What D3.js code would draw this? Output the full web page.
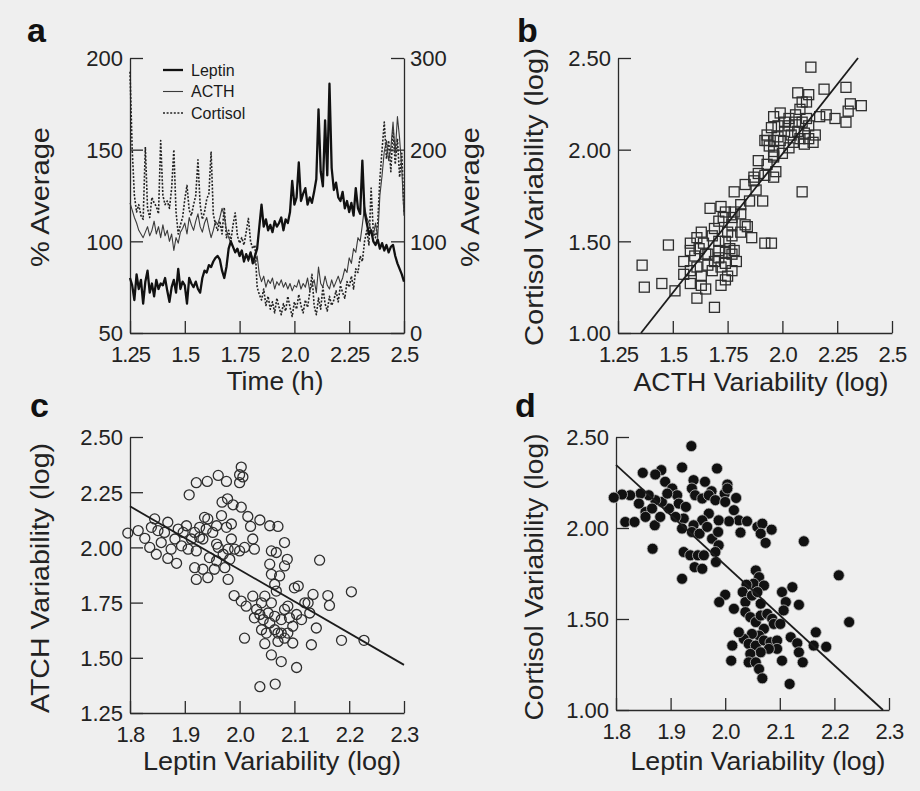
<!DOCTYPE html>
<html>
<head>
<meta charset="utf-8">
<script src="https://cdn.jsdelivr.net/npm/d3@7"></script>
<style>
body { margin: 0; background: #efefef; }
svg { display: block; font-family: "Liberation Sans", Arial, Helvetica, sans-serif; }
.axis path, .axis line { stroke: #2a2a2a; stroke-width: 1.3; }
.axis text { fill: #222; }
.title { fill: #222; }
</style>
</head>
<body>
<svg id="fig" width="920" height="791"></svg>
<script>
// ---- panel a: time course (% of average) ----
var timeH = [1.25,1.26,1.27,1.28,1.29,1.30,1.31,1.32,1.33,1.34,
  1.35,1.36,1.37,1.38,1.39,1.40,1.41,1.42,1.43,1.44,
  1.45,1.46,1.47,1.48,1.49,1.50,1.51,1.52,1.53,1.54,
  1.55,1.56,1.57,1.58,1.59,1.60,1.61,1.62,1.63,1.64,
  1.65,1.66,1.67,1.68,1.69,1.70,1.71,1.72,1.73,1.74,
  1.75,1.76,1.77,1.78,1.79,1.80,1.81,1.82,1.83,1.84,
  1.85,1.86,1.87,1.88,1.89,1.90,1.91,1.92,1.93,1.94,
  1.95,1.96,1.97,1.98,1.99,2.00,2.01,2.02,2.03,2.04,
  2.05,2.06,2.07,2.08,2.09,2.10,2.11,2.12,2.13,2.14,
  2.15,2.16,2.17,2.18,2.19,2.20,2.21,2.22,2.23,2.24,
  2.25,2.26,2.27,2.28,2.29,2.30,2.31,2.32,2.33,2.34,
  2.35,2.36,2.37,2.38,2.39,2.40,2.41,2.42,2.43,2.44,
  2.45,2.46,2.47,2.48,2.49,2.50];

// left axis (50-200)
var leptin = [80,76,68,82,74,79,66,78,84,72,
  77,70,79,74,77,76,80,73,67,75,
  79,72,85,74,78,76,66,80,77,75,
  78,74,72,80,84,83,87,86,89,91,
  92,90,84,80,86,96,100,97,94,96,
  92,95,89,93,90,94,88,92,96,108,
  120,108,112,106,109,105,111,108,110,113,
  106,112,110,116,133,120,124,143,122,126,
  129,120,124,121,127,134,172,138,130,166,
  136,186,140,128,132,124,122,127,118,122,
  116,121,114,129,118,115,144,116,110,104,
  106,100,98,101,96,99,95,98,94,97,
  98,92,88,85,82,78];

// right axis (0-300)
var acth = [142,134,126,120,112,108,104,110,116,106,
  112,122,108,116,104,118,106,112,100,108,
  90,104,98,110,114,120,108,126,118,112,
  122,130,116,110,120,126,114,104,112,122,
  118,126,136,128,112,104,98,94,88,92,
  84,90,80,86,78,88,82,76,84,64,
  56,62,50,58,54,60,48,56,52,58,
  50,55,48,54,46,52,50,58,48,54,
  50,60,46,52,58,44,72,54,50,62,
  52,48,58,50,56,62,54,60,70,66,
  82,76,92,88,104,100,118,138,126,120,
  112,106,120,104,150,172,198,210,188,202,
  230,196,236,212,178,128];

var cortisol = [285,200,150,132,140,128,124,203,136,126,
  148,142,138,130,210,150,140,144,136,158,
  200,132,108,118,126,146,161,134,128,140,
  150,189,140,124,132,146,152,198,130,118,
  112,122,108,137,104,112,100,118,131,106,
  98,104,96,110,125,100,92,96,50,42,
  36,48,30,40,26,34,22,38,28,20,
  32,24,40,28,18,34,26,42,30,22,
  36,28,44,64,30,20,38,26,50,32,
  24,40,30,36,46,34,52,44,38,56,
  50,62,48,70,66,84,78,100,112,96,
  158,110,104,120,168,200,230,190,210,176,
  222,184,212,170,196,131];

var legendNames = ["Leptin", "ACTH", "Cortisol"];
var timeTicks = [1.25, 1.5, 1.75, 2.0, 2.25, 2.5];
var timeTickLabels = ["1.25", "1.5", "1.75", "2.0", "2.25", "2.5"];
var leftTicks = [50, 100, 150, 200];
var rightTicks = [0, 100, 200, 300];

// ---- panel b: ACTH (x) vs cortisol (y) variability ----
var acthCortisol = [
  [2.13,2.45],[2.07,2.31],[2.12,2.30],[2.11,2.26],[2.19,2.33],[2.29,2.34],[2.31,2.25],[2.36,2.24],[2.30,2.21],[2.29,2.15],
  [2.24,2.17],[2.20,2.19],[2.17,2.18],[2.09,2.26],[2.08,2.22],
  [1.96,2.18],[1.99,2.20],[2.03,2.17],[2.06,2.15],[2.09,2.15],[2.12,2.13],[2.15,2.08],[2.14,2.04],[2.10,2.03],[2.08,2.06],
  [2.04,2.08],[2.01,2.10],[1.98,2.13],[1.95,2.12],[1.93,2.08],[1.92,2.05],[1.94,2.02],[1.96,2.05],[1.99,2.05],[2.03,2.01],
  [2.05,2.04],[2.07,2.10],[2.10,2.09],[2.12,2.06],[2.00,1.98],[1.96,1.99],[1.93,2.05],[2.03,2.13],[2.06,2.19],[2.11,2.17],
  [2.01,2.15],[1.98,2.07],[1.96,1.97],
  [1.89,1.94],[1.93,1.92],[1.96,1.96],[1.97,1.88],[1.92,1.86],[1.89,1.87],[1.87,1.85],[1.96,1.85],[1.83,1.81],[1.87,1.83],
  [1.88,1.78],[1.85,1.72],[1.78,1.77],[1.81,1.70],[1.91,1.72],[2.09,1.77],
  [1.72,1.69],[1.67,1.68],[1.74,1.66],[1.78,1.66],[1.77,1.63],[1.81,1.65],[1.83,1.59],[1.84,1.58],[1.77,1.59],[1.75,1.55],
  [1.71,1.61],[1.73,1.63],[1.69,1.57],[1.63,1.55],[1.61,1.52],[1.64,1.49],[1.58,1.49],[1.68,1.53],[1.71,1.50],[1.74,1.50],
  [1.77,1.53],[1.81,1.55],[1.86,1.52],[1.92,1.49],[1.95,1.49],[1.48,1.48],
  [1.55,1.39],[1.58,1.45],[1.60,1.42],[1.62,1.46],[1.65,1.43],[1.66,1.37],[1.61,1.36],[1.58,1.34],[1.55,1.32],[1.63,1.31],
  [1.68,1.34],[1.71,1.41],[1.72,1.36],[1.74,1.38],[1.77,1.43],[1.78,1.45],[1.79,1.39],[1.77,1.34],[1.75,1.31],[1.74,1.29],
  [1.72,1.26],[1.69,1.39],[1.66,1.43],[1.71,1.45],[1.74,1.44],[1.76,1.46],
  [1.36,1.37],[1.37,1.25],[1.45,1.27],[1.51,1.23],[1.58,1.27],[1.63,1.26],[1.65,1.24],[1.61,1.19],[1.69,1.14]
];
var acthCortisolFit = [[1.355, 1.00], [2.345, 2.50]];
var acthTicks = [1.25, 1.5, 1.75, 2.0, 2.25, 2.5];
var acthTickLabels = ["1.25", "1.5", "1.75", "2.0", "2.25", "2.5"];
var cortTicksB = [1.0, 1.5, 2.0, 2.5];

// ---- panel c: leptin (x) vs ACTH (y) variability ----
var leptinActh = [
  [2.003,2.364],[2.000,2.329],[2.006,2.319],[2.000,2.293],[1.976,2.299],[1.961,2.326],[1.941,2.299],[1.921,2.293],[1.908,2.238],
  [1.968,2.205],[1.978,2.220],[1.988,2.193],[2.003,2.182],[2.015,2.140],[2.020,2.095],[2.037,2.124],[2.055,2.098],[2.070,2.095],
  [1.967,2.144],[1.958,2.098],[1.936,2.136],[1.976,2.091],[1.985,2.106],
  [1.796,2.065],[1.815,2.076],[1.827,2.041],[1.836,2.000],[1.839,2.091],[1.845,2.129],[1.851,2.076],[1.848,1.969],[1.857,2.022],
  [1.863,2.068],[1.869,2.114],[1.869,1.950],[1.875,1.992],[1.882,2.038],[1.885,1.928],[1.888,2.083],[1.894,2.007],[1.897,2.068],
  [1.903,2.098],[1.906,1.992],[1.912,2.038],[1.918,2.068],[1.921,1.984],[1.927,2.045],[1.927,2.091],[1.933,2.038],[1.939,2.083],
  [1.942,2.129],[1.951,2.068],[1.958,2.015],
  [1.918,1.908],[1.921,1.855],[1.933,1.901],[1.942,1.863],[1.945,1.954],[1.954,1.901],[1.958,1.939],[1.961,2.000],[1.970,1.969],
  [1.973,1.908],[1.979,1.855],[1.982,1.946],[1.985,2.038],[1.991,1.992],[2.000,1.984],[2.009,2.000],[2.024,2.038],[2.027,1.992],
  [1.979,1.992],
  [2.058,1.984],[2.067,1.977],[2.082,2.022],[2.087,1.946],[2.082,1.916],[2.055,1.924],[2.058,1.878],[2.073,1.871],[2.064,1.833],
  [2.067,1.802],[2.100,1.817],[2.107,1.825],[2.146,1.942],
  [1.990,1.782],[2.003,1.757],[2.012,1.734],[2.024,1.779],[2.031,1.719],[2.040,1.749],[2.046,1.779],[2.037,1.696],[2.043,1.673],
  [2.052,1.703],[2.058,1.749],[2.055,1.658],[2.040,1.627],[2.064,1.627],[2.070,1.612],[2.076,1.673],[2.082,1.719],[2.088,1.734],
  [2.091,1.681],[2.097,1.643],[2.097,1.567],[2.082,1.589],[2.070,1.574],[2.064,1.688],[2.076,1.612],[2.088,1.612],[2.104,1.696],
  [2.113,1.673],[2.119,1.749],[2.128,1.703],[2.134,1.787],[2.125,1.749],[2.140,1.635],[2.131,1.559],[2.161,1.782],[2.164,1.737],
  [2.186,1.579],[2.204,1.799],[2.227,1.579],[2.009,1.589],[2.046,1.564],[2.058,1.513],[2.076,1.483],[2.104,1.456],[2.037,1.369],
  [2.065,1.381],[2.049,1.612],[2.027,1.681]
];
var leptinActhFit = [[1.80, 2.186], [2.30, 1.468]];
var leptinTicks = [1.8, 1.9, 2.0, 2.1, 2.2, 2.3];
var acthTicksC = [1.25, 1.5, 1.75, 2.0, 2.25, 2.5];

// ---- panel d: leptin (x) vs cortisol (y) variability ----
var leptinCortisol = [
  [1.938,2.450],[1.921,2.333],[1.985,2.327],[1.849,2.303],[1.883,2.318],[1.872,2.294],
  [1.942,2.263],[1.963,2.254],[1.939,2.217],[1.975,2.202],[2.004,2.239],[1.999,2.189],[2.020,2.165],
  [1.890,2.254],[1.903,2.217],[1.912,2.180],[1.915,2.134],[1.928,2.116],[1.945,2.180],[1.958,2.162],[1.970,2.180],[1.982,2.153],
  [2.000,2.143],[2.016,2.098],[2.025,2.042],[2.040,2.037],[2.007,2.037],[1.988,2.042],[1.970,2.079],[1.958,2.042],[1.942,2.015],
  [1.924,2.052],[1.909,2.061],[1.897,2.107],[1.884,2.143],[1.872,2.153],[1.860,2.180],[1.845,2.189],[1.826,2.180],[1.811,2.184],
  [1.796,2.167],[1.817,2.033],[1.834,2.033],[1.854,2.088],[1.871,2.015],[1.866,2.107],[1.842,2.134],[1.854,2.061],[1.881,2.061],
  [1.894,2.189],[1.921,1.997],[1.939,1.978],[1.953,1.969],[1.967,2.006],[1.976,1.941],[1.987,1.978],[1.988,1.905],[1.982,1.868],
  [1.983,1.813],[2.028,1.975],[2.059,2.006],[2.068,2.024],[2.085,1.991],[2.065,1.969],[2.074,1.918],[2.144,1.927],[1.867,1.886],
  [1.924,1.868],[1.936,1.850],[1.950,1.850],[1.961,1.850],[1.944,1.785],[1.958,1.776],[1.921,1.721],[2.004,2.217],
  [2.056,1.767],[2.062,1.730],[2.052,1.694],[2.071,1.684],[2.039,1.688],[2.032,1.648],[2.037,1.593],[2.049,1.629],[2.059,1.648],
  [2.065,1.584],[2.000,1.633],[1.989,1.593],[2.016,1.556],[2.037,1.538],[2.046,1.510],[2.056,1.483],[2.065,1.519],[2.077,1.528],
  [2.086,1.501],[2.089,1.473],[2.101,1.473],[2.104,1.648],[2.123,1.675],[2.111,1.593],[2.107,1.547],[2.135,1.578],[2.071,1.446],
  [2.062,1.409],[2.049,1.418],[2.034,1.391],[2.025,1.427],[2.043,1.363],[2.056,1.354],[2.071,1.382],[2.083,1.372],[2.095,1.382],
  [2.095,1.336],[2.080,1.336],[2.065,1.317],[2.046,1.308],[2.043,1.262],[2.056,1.262],[2.062,1.225],[2.068,1.174],[2.013,1.354],
  [2.011,1.271],[2.104,1.271],[2.120,1.400],[2.132,1.367],[2.135,1.317],[2.142,1.262],[2.166,1.427],[2.162,1.354],[2.185,1.347],
  [2.208,1.740],[2.227,1.483],[2.118,1.143]
];
var leptinCortisolFit = [[1.80, 2.347], [2.289, 1.00]];
var cortTicksD = [1.0, 1.5, 2.0, 2.5];

var svg = d3.select("#fig");
var ink = "#1c1c1c";

// axis frame helper: ticks point into the plot
function frame(x, y, xTicks, xFmt, yTicks, yFmt) {
    var xa = svg.append("g")
        .attr("class", "axis")
        .attr("transform", "translate(0," + y.range()[0] + ")")
        .call(d3.axisBottom(x).tickValues(xTicks).tickFormat(xFmt).tickSize(-12).tickSizeOuter(0));
    xa.selectAll("text")
        .attr("y", 29).attr("dy", 0)
        .attr("font-size", 22)
        .attr("letter-spacing", -0.9);

    var ya = svg.append("g")
        .attr("class", "axis")
        .attr("transform", "translate(" + x.range()[0] + ",0)")
        .call(d3.axisLeft(y).tickValues(yTicks).tickFormat(yFmt).tickSize(-13).tickSizeOuter(0).tickPadding(7));
    ya.selectAll("text")
        .attr("font-size", 22)
        .attr("dy", "0.36em");
}

// titles are stretched to the lengths measured on the figure
function yTitle(txt, cx, cy, len) {
    svg.append("text")
        .attr("class", "title")
        .attr("transform", "translate(" + cx + "," + cy + ") rotate(-90)")
        .attr("text-anchor", "middle")
        .attr("font-size", 26)
        .attr("textLength", len)
        .attr("lengthAdjust", "spacingAndGlyphs")
        .text(txt);
}

function xTitle(txt, cx, by, len) {
    svg.append("text")
        .attr("class", "title")
        .attr("x", cx).attr("y", by)
        .attr("text-anchor", "middle")
        .attr("font-size", 26)
        .attr("textLength", len)
        .attr("lengthAdjust", "spacingAndGlyphs")
        .text(txt);
}

function letter(txt, x0, y0) {
    svg.append("text")
        .attr("x", x0).attr("y", y0)
        .attr("font-size", 34)
        .attr("font-weight", "bold")
        .attr("fill", "#111")
        .text(txt);
}

function fitLine(x, y, pts) {
    svg.append("line")
        .attr("x1", x(pts[0][0])).attr("y1", y(pts[0][1]))
        .attr("x2", x(pts[1][0])).attr("y2", y(pts[1][1]))
        .attr("stroke", ink)
        .attr("stroke-width", 1.8);
}

// ===== a =====
var xa = d3.scaleLinear().domain([1.25, 2.5]).range([130, 404]),
    yl = d3.scaleLinear().domain([50, 200]).range([333, 58]),
    yr = d3.scaleLinear().domain([0, 300]).range([333, 58]);

frame(xa, yl, timeTicks, function(d, i) { return timeTickLabels[i]; }, leftTicks, d3.format("d"));

var ra = svg.append("g")
    .attr("class", "axis")
    .attr("transform", "translate(404,0)")
    .call(d3.axisRight(yr).tickValues(rightTicks).tickFormat(d3.format("d")).tickSize(-13).tickSizeOuter(0).tickPadding(6));
ra.selectAll("text").attr("font-size", 22).attr("dy", "0.36em");

var series = [
    {name: "Leptin", vals: leptin, y: yl, w: 2.3, dash: null, col: "#111"},
    {name: "ACTH", vals: acth, y: yr, w: 1.1, dash: null, col: "#3a3a3a"},
    {name: "Cortisol", vals: cortisol, y: yr, w: 1.6, dash: "2,1.6", col: "#222"}
];

// draw cortisol first, leptin on top
series.slice().reverse().forEach(function(s) {
    var line = d3.line()
        .x(function(d, i) { return xa(timeH[i]); })
        .y(function(d) { return s.y(d); });
    svg.append("path")
        .datum(s.vals)
        .attr("d", line)
        .attr("fill", "none")
        .attr("stroke", s.col)
        .attr("stroke-width", s.w)
        .attr("stroke-linejoin", "round")
        .attr("stroke-dasharray", s.dash);
});

var leg = svg.append("g").attr("transform", "translate(163,70)");
legendNames.forEach(function(n, i) {
    var s = series[i];
    leg.append("line")
        .attr("x1", 0).attr("x2", 20)
        .attr("y1", i * 21.5).attr("y2", i * 21.5)
        .attr("stroke", s.col).attr("stroke-width", s.w)
        .attr("stroke-dasharray", s.dash);
    leg.append("text")
        .attr("x", 28).attr("y", i * 21.5)
        .attr("dy", "0.36em")
        .attr("font-size", 16)
        .attr("fill", "#1a1a1a")
        .text(n);
});

yTitle("% Average", 49, 197, 140);
yTitle("% Average", 479, 197, 140);
xTitle("Time (h)", 275, 390, 97);
letter("a", 27, 42);

// ===== b =====
var xb = d3.scaleLinear().domain([1.25, 2.5]).range([618, 892]),
    yb = d3.scaleLinear().domain([1.0, 2.5]).range([333, 58]);
frame(xb, yb, acthTicks, function(d, i) { return acthTickLabels[i]; }, cortTicksB, d3.format(".2f"));

svg.append("g").selectAll("rect")
    .data(acthCortisol)
    .enter().append("rect")
    .attr("x", function(d) { return xb(d[0]) - 5; })
    .attr("y", function(d) { return yb(d[1]) - 5; })
    .attr("width", 10).attr("height", 10)
    .attr("fill", "none")
    .attr("stroke", "#2e2e2e")
    .attr("stroke-width", 1.3);
fitLine(xb, yb, acthCortisolFit);

yTitle("Cortisol Variability (log)", 543, 197, 298);
xTitle("ACTH Variability (log)", 761, 391, 255);
letter("b", 517, 42);

// ===== c =====
var xc = d3.scaleLinear().domain([1.8, 2.3]).range([130, 404]),
    yc = d3.scaleLinear().domain([1.25, 2.5]).range([713, 437]);
frame(xc, yc, leptinTicks, d3.format(".1f"), acthTicksC, d3.format(".2f"));

svg.append("g").selectAll("circle")
    .data(leptinActh)
    .enter().append("circle")
    .attr("cx", function(d) { return xc(d[0]); })
    .attr("cy", function(d) { return yc(d[1]); })
    .attr("r", 5)
    .attr("fill", "none")
    .attr("stroke", "#2e2e2e")
    .attr("stroke-width", 1.3);
fitLine(xc, yc, leptinActhFit);

yTitle("ATCH Variability (log)", 49, 578, 270);
xTitle("Leptin Variability (log)", 272, 770, 258);
letter("c", 30, 417);

// ===== d =====
var xd = d3.scaleLinear().domain([1.8, 2.3]).range([616, 889]),
    yd = d3.scaleLinear().domain([1.0, 2.5]).range([710, 437]);
frame(xd, yd, leptinTicks, d3.format(".1f"), cortTicksD, d3.format(".2f"));

svg.append("g").selectAll("circle")
    .data(leptinCortisol)
    .enter().append("circle")
    .attr("cx", function(d) { return xd(d[0]); })
    .attr("cy", function(d) { return yd(d[1]); })
    .attr("r", 5.5)
    .attr("fill", "#111")
    .attr("stroke", "#bdbdbd")
    .attr("stroke-width", 0.8);
fitLine(xd, yd, leptinCortisolFit);

yTitle("Cortisol Variability (log)", 543, 577, 287);
xTitle("Leptin Variability (log)", 758, 770, 255);
letter("d", 515, 417);
</script>
</body>
</html>
